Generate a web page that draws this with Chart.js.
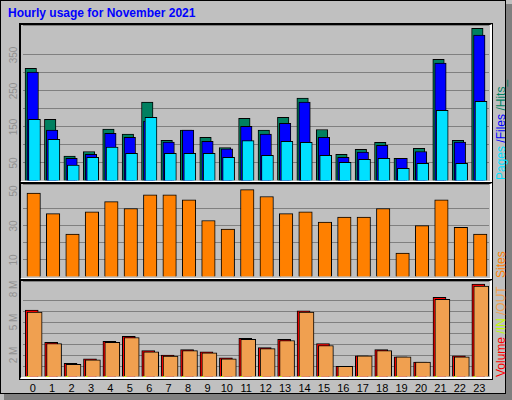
<!DOCTYPE html>
<html><head><meta charset="utf-8">
<script src="https://cdn.jsdelivr.net/npm/chart.js@4/dist/chart.umd.min.js"></script>
<style>
body{margin:0;width:512px;height:400px;background:#c0c0c0;position:relative;overflow:hidden;font-family:"Liberation Sans",Arial,sans-serif}
.frame{position:absolute;left:0;top:0;width:504px;height:392px;border:1px solid #000;background:#c0c0c0}
.shR{position:absolute;left:506px;top:4px;width:6px;height:396px;background:#808080}
.shB{position:absolute;left:4px;top:394px;width:508px;height:6px;background:#808080}
.panel{position:absolute;border-top:1px solid #000;border-left:1px solid #000;border-right:2px solid #fff;border-bottom:2px solid #fff;box-shadow:0 0 0 1px #000}
canvas{position:absolute}
.t{position:absolute;white-space:nowrap}
.yl{position:absolute;color:#909090;font-size:10px;transform:translate(-50%,-50%) rotate(-90deg)}
.xl{position:absolute;font-size:11px;transform:translateX(-50%);top:382px}
.rl{position:absolute;font-size:12px;line-height:14px;transform-origin:0 0;transform:rotate(-90deg);white-space:nowrap}
</style></head><body>
<div class="frame"></div><div class="shR"></div><div class="shB"></div>
<div class="t" style="left:8px;top:6px;color:#0000ff;font-weight:bold;font-size:12px">Hourly usage for November 2021</div>
<div class="panel" style="left:20px;top:24px;width:469px;height:156px"></div>
<div class="panel" style="left:20px;top:183px;width:469px;height:94px"></div>
<div class="panel" style="left:20px;top:280px;width:469px;height:96px"></div>
<canvas id="c1" style="left:23px;top:25px;width:466px;height:156px"></canvas>
<canvas id="c2" style="left:23px;top:184px;width:466px;height:93px"></canvas>
<canvas id="c3" style="left:23px;top:281px;width:466px;height:96px"></canvas>
<div class="rl" style="left:494px;top:180px"><span style="color:#00e0ff">Pages</span><span style="color:#0000ff"> /Files</span><span style="color:#008060"> /Hits_</span></div>
<div class="rl" style="left:494px;top:278px"><span style="color:#ff8000">Sites</span></div>
<div class="rl" style="left:494px;top:377px"><span style="color:#ff0000">Volume</span><span style="color:#c0ff00"> /IN</span><span style="color:#f0a050"> /OUT</span></div>
<div id="lab"></div>
<script>
const hours=["0","1","2","3","4","5","6","7","8","9","10","11","12","13","14","15","16","17","18","19","20","21","22","23"];
const hits=[313,171,69,82,144,130,219,113,141,121,93,174,141,177,230,143,74,88,107,63,91,338,113,424];
const files=[302,141,63,74,132,121,166,108,141,110,89,152,130,160,219,121,66,80,99,63,82,327,108,405];
const pages=[171,116,44,66,94,77,177,77,77,77,66,112,71,110,107,71,52,60,63,35,49,196,49,221];
const sites=[49,37,25,38,44,40,48,48,45,33,28,51,47,37,38,32,35,35,40,14,30,45,29,25];
const volume=[6.11,3.15,1.25,1.65,3.24,3.71,2.4,2.0,2.5,2.3,1.75,3.52,2.68,3.43,6.02,3.05,0.97,1.93,2.5,1.84,1.37,7.26,1.93,8.48];
const volOut=[5.92,3.05,1.16,1.56,3.15,3.6,2.3,1.9,2.4,2.2,1.65,3.43,2.59,3.33,5.92,2.87,0.97,1.93,2.4,1.84,1.37,7.07,1.84,8.29];
const volIn=[0.06,0.06,0.02,0.02,0.02,0.02,0.02,0.02,0.06,0.02,0.02,0.06,0.02,0.06,0.02,0.06,0.02,0.02,0.02,0.02,0.02,0.06,0.02,0.06];
const tick1=[50,150,250,350], tick2=[10,30,50], tick3=[2,5,8];

const pts=(arr,off)=>arr.map((v,i)=>({x:i+off,y:v}));
function ds(arr,off,color,w,order){return {data:pts(arr,off),backgroundColor:color,borderColor:'#000',borderWidth:1,barThickness:w,order:order,grouped:false,borderSkipped:'bottom'};}
function mk(id,datasets,max,step){
  return new Chart(document.getElementById(id),{type:'bar',data:{datasets},
    options:{animation:false,responsive:false,maintainAspectRatio:false,events:[],
      layout:{padding:0},
      plugins:{legend:{display:false},tooltip:{enabled:false}},
      scales:{
        x:{type:'linear',min:-0.5,max:23.5,offset:false,bounds:'ticks',display:false,grid:{offset:false}},
        y:{min:0,max:max,ticks:{display:false,stepSize:step},border:{display:false},grid:{color:'#808080',lineWidth:1,drawTicks:false}}
      }}});
}
document.querySelectorAll('canvas').forEach(c=>{c.width=parseInt(c.style.width);c.height=parseInt(c.style.height);});
const ch1=mk('c1',[ds(hits,-0.1,'#008060',11.5,2),ds(files,0,'#0000ff',11.5,1),ds(pages,0.09,'#00e0ff',12,0)],433,50);
const ch2=mk('c2',[ds(sites,0.05,'#ff8000',13.5,0)],54.3,10);
const ch3=mk('c3',[ds(volume,-0.05,'#ff0000',13,2),ds(volOut,0.1,'#f0a050',15,1),{data:pts(volIn,-0.24),backgroundColor:'#c0ff00',barThickness:2,order:0,grouped:false}],8.75,1);
const lab=document.getElementById('lab');
function yl(ch,top,vals,fmt){vals.forEach(v=>{const d=document.createElement('div');d.className='yl';d.textContent=fmt(v);d.style.left='13px';d.style.top=(top+ch.scales.y.getPixelForValue(v))+'px';lab.appendChild(d);});}
yl(ch1,25,tick1,v=>String(v));
yl(ch2,184,tick2,v=>String(v));
yl(ch3,281,tick3,v=>v+' M');
hours.forEach((h,i)=>{const d=document.createElement('div');d.className='xl';d.textContent=h;d.style.left=(23+ch3.scales.x.getPixelForValue(i))+'px';lab.appendChild(d);});
</script></body></html>
